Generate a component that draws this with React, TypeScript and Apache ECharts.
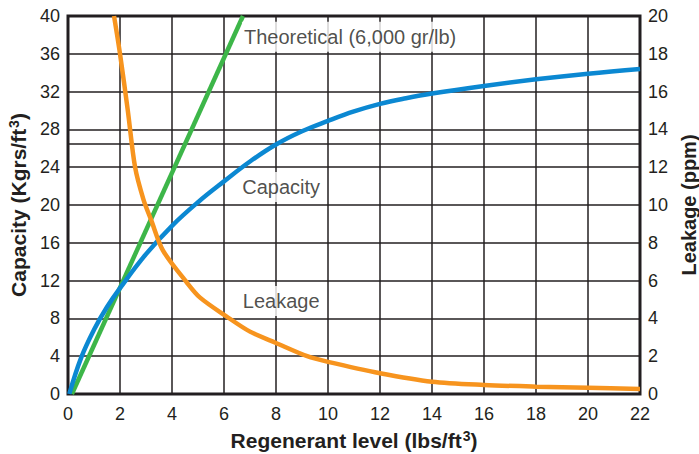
import { useEffect, useRef } from 'react';
import * as echarts from 'echarts';

// Regenerant level (lbs/ft3) vs Capacity (Kgrs/ft3)
const capacity: [number, number][] = [
  [0.05, 0], [0.5, 3.8], [1, 6.8], [1.5, 9.2], [2, 11.2], [3, 14.8], [4, 17.8],
  [5, 20.3], [6, 22.5], [7, 24.6], [8, 26.4], [9, 27.8], [10, 28.9], [11, 29.9],
  [12, 30.7], [13, 31.3], [14, 31.8], [16, 32.6], [18, 33.3], [20, 33.9], [22, 34.4],
];
// Theoretical capacity (6,000 gr/lb)
const theoretical: [number, number][] = [[0.15, 0], [6.73, 40]];
// Leakage (ppm), right axis
const leakage: [number, number][] = [
  [1.77, 20], [2.0, 18], [2.3, 15], [2.58, 12], [2.9, 10.3], [3.2, 9.2], [3.65, 7.6],
  [4.57, 5.9], [5.08, 5.1], [6.1, 4.1], [7, 3.3], [8, 2.7], [9.2, 2.0], [10, 1.7],
  [12, 1.1], [14, 0.65], [16, 0.48], [18, 0.39], [20, 0.33], [22, 0.26],
];
const annotations = [
  { name: 'Theoretical (6,000 gr/lb)', value: [10.85, 37.8] },
  { name: 'Capacity', value: [8.2, 21.9] },
  { name: 'Leakage', value: [8.2, 9.84] },
];
const extraGridLine = 26.5;

const xRange = { min: 0, max: 22, interval: 2 };
const leftRange = { min: 0, max: 40, interval: 4 };
const rightRange = { min: 0, max: 20, interval: 2 };

const xTitle = 'Regenerant level (lbs/ft{sup|3})';
const leftTitle = 'Capacity (Kgrs/ft{sup|3})';
const rightTitle = 'Leakage (ppm)';

const INK = '#231f20';
const FONT = '"Liberation Sans", Arial, Helvetica, sans-serif';

export default function App() {
  const ref = useRef<HTMLDivElement>(null);
  useEffect(() => {
    if (!ref.current) return;
    const chart = echarts.init(ref.current, undefined, { renderer: 'svg' });
    const gridLine = { color: INK, width: 1.5 };
    const axisLabel = { color: INK, fontSize: 18, fontFamily: FONT, margin: 8 };
    const nameStyle = {
      color: INK, fontSize: 21, fontWeight: 'bold' as const, fontFamily: FONT,
      rich: {
        sup: { color: INK, fontSize: 14, fontWeight: 'bold' as const, fontFamily: FONT, padding: [0, 0, 9, 1] },
      },
    };
    chart.setOption({
      animation: false,
      backgroundColor: '#fff',
      grid: {
        left: 68, right: 59, top: 16, bottom: 60,
        containLabel: false, outerBoundsMode: 'none',
        show: true, borderColor: INK, borderWidth: 3, backgroundColor: 'transparent',
      },
      xAxis: {
        type: 'value', ...xRange,
        name: xTitle, nameLocation: 'middle', nameGap: 35,
        nameTextStyle: nameStyle,
        axisLine: { show: false }, axisTick: { show: false },
        axisLabel: { ...axisLabel, margin: 11 },
        splitLine: { show: true, lineStyle: gridLine },
      },
      yAxis: [
        {
          type: 'value', ...leftRange,
          name: leftTitle, nameLocation: 'middle', nameGap: 37, nameRotate: 90,
          nameTextStyle: nameStyle,
          axisLine: { show: false }, axisTick: { show: false },
          axisLabel,
          splitLine: { show: true, lineStyle: gridLine },
        },
        {
          type: 'value', ...rightRange, position: 'right',
          name: rightTitle, nameLocation: 'middle', nameGap: 32, nameRotate: 90,
          nameTextStyle: { color: INK, fontSize: 20, fontWeight: 'bold', fontFamily: FONT },
          axisLine: { show: false }, axisTick: { show: false },
          axisLabel,
          splitLine: { show: false },
        },
      ],
      series: [
        {
          type: 'line', data: theoretical, yAxisIndex: 0, symbol: 'none',
          lineStyle: { color: '#3db649', width: 4.5 }, z: 3,
          markLine: {
            silent: true, symbol: 'none', label: { show: false },
            lineStyle: { color: INK, width: 1.5, type: 'solid' },
            data: [{ yAxis: extraGridLine }],
            z: 1,
          },
        },
        {
          type: 'line', data: capacity, yAxisIndex: 0, symbol: 'none', smooth: 0.4,
          lineStyle: { color: '#0b88d2', width: 4.5 }, z: 4,
        },
        {
          type: 'line', data: leakage, yAxisIndex: 1, symbol: 'none', smooth: 0.3,
          lineStyle: { color: '#f7941e', width: 4.5 }, z: 5,
        },
        {
          type: 'scatter', data: annotations, yAxisIndex: 0, symbolSize: 0, z: 6,
          label: {
            show: true, formatter: '{b}', position: 'inside',
            color: INK, fontSize: 20, fontFamily: FONT,
            backgroundColor: '#fff', padding: [5, 2],
          },
        },
      ],
    });
    return () => chart.dispose();
  }, []);
  return <div ref={ref} style={{ width: 699, height: 454, position: 'absolute', left: 0, top: 0 }} />;
}
